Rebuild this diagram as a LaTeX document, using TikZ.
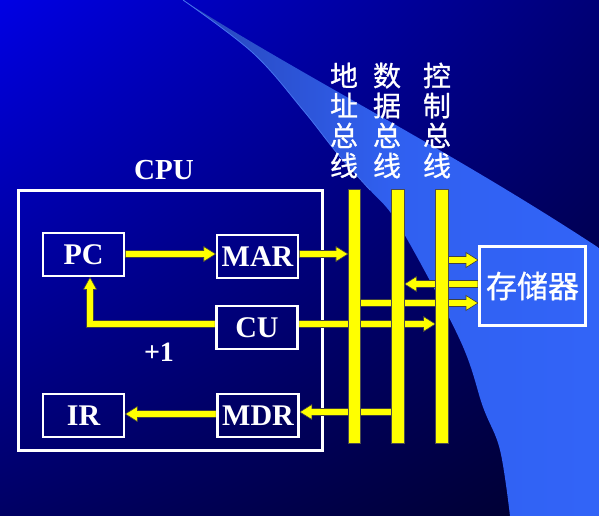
\documentclass[tikz,border=0pt]{standalone}
\usepackage{fontspec}
\setmainfont{Liberation Serif}
\newfontfamily\cjk[FakeBold=0.8]{Noto Sans CJK SC}
\usetikzlibrary{calc,shadings}
\pgfdeclarelayer{bglayer}
\pgfdeclarelayer{midlayer}
\pgfsetlayers{bglayer,midlayer,main}
\definecolor{bgA}{RGB}{0,0,228}
\definecolor{bgB}{RGB}{0,0,118}
\definecolor{bgC}{RGB}{0,0,100}
\definecolor{bgD}{RGB}{0,0,45}
\definecolor{bandA}{RGB}{32,48,130}
\definecolor{bandB}{RGB}{40,70,185}
\definecolor{bandC}{RGB}{48,96,240}
\definecolor{bandD}{RGB}{52,104,255}
\definecolor{hlcol}{RGB}{70,115,240}
\definecolor{yel}{RGB}{255,255,0}
\pgfdeclarehorizontalshading{bandshade}{100bp}{color(0bp)=(bandA); color(25bp)=(bandB); color(50bp)=(bandC); color(100bp)=(bandD)}
\tikzset{
  box/.style={draw=white, line width=2.6pt, minimum width=81pt, minimum height=43pt,
    inner sep=0pt, text=white, font=\fontsize{30pt}{36pt}\selectfont\bfseries},
  busbar/.style={fill=yel, draw=black!70, line width=0.6pt, minimum width=12.5pt,
    minimum height=254pt, inner sep=0pt},
  yarrow/.style={fill=yel, draw=black!75, line width=0.6pt},
  buslabel/.style={text=white, align=center, inner sep=0pt,
    font=\cjk\fontsize{28pt}{30pt}\selectfont},
}
\newcommand\blockarr[2]{%
  \coordinate (baq) at ($(#2)!12pt!(#1)$);
  \filldraw[yarrow] ($(#1)!3.5pt!90:(#2)$) -- ($(baq)!3.5pt!90:(#2)$)
    -- ($(baq)!7.5pt!90:(#2)$) -- (#2) -- ($(baq)!7.5pt!-90:(#2)$)
    -- ($(baq)!3.5pt!-90:(#2)$) -- ($(#1)!3.5pt!-90:(#2)$) -- cycle;
}
\begin{document}
\begin{tikzpicture}[x=1pt,y=-1pt]
\useasboundingbox (0,0) rectangle (599,516);
\begin{pgfonlayer}{bglayer}
  \shade[upper left=bgA, upper right=bgB, lower left=bgC, lower right=bgD]
    (0,0) rectangle (599,516);
  \shade[shading=bandshade] (183,0) .. controls (300,75) and (450,150) .. (599,248)
    -- (599,516) -- plot[smooth, tension=0.6] coordinates {(510,516) (500,450) (483,407)
    (460,340) (400,227) (370,190) (337,153) (303,110) (253,53) (183,0)} -- cycle;
  \draw[hlcol, line width=0.8pt] plot[smooth, tension=0.6] coordinates
    {(183,0) (253,53) (303,110) (337,153) (370,190)};
\end{pgfonlayer}

% boxes and bars
\node[box] (PC) at (83.5,254.5) {PC};
\node[box] (MAR) at (257.5,256.5) {MAR};
\node[box] (CU) at (257,327.5) {CU};
\node[box] (IR) at (83.5,415.5) {IR};
\node[box] (MDR) at (258,415.5) {MDR};
\node[draw=white, line width=3pt, minimum width=106pt, minimum height=79pt, inner sep=0pt,
  text=white, font=\cjk\fontsize{31pt}{34pt}\selectfont] (mem) at (532.5,286) {存储器};
\node[busbar] (b1) at (354.5,316) {};
\node[busbar] (b2) at (398,316) {};
\node[busbar] (b3) at (442,316) {};

% labels
\node[text=white, inner sep=0pt, font=\fontsize{29pt}{34pt}\selectfont\bfseries] (cpulabel) at (164,170) {CPU};
\node[text=white, inner sep=0pt, font=\fontsize{28pt}{34pt}\selectfont\bfseries] (plusone) at (159,352) {+1};
\node[buslabel] (addrlabel) at (344,120.5) {地\\址\\总\\线};
\node[buslabel] (datalabel) at (387,120.5) {数\\据\\总\\线};
\node[buslabel] (ctrllabel) at (437,120.5) {控\\制\\总\\线};

% row levels
\coordinate (r1) at (0,254);
\coordinate (r6) at (0,260);
\coordinate (r7) at (0,284);
\coordinate (r5) at (0,303);
\coordinate (r4) at (0,324);
\coordinate (r8) at (0,412);
\coordinate (r9) at (0,414);

\begin{pgfonlayer}{midlayer}
  \node[draw=white, line width=3pt, minimum width=304pt, minimum height=260pt, inner sep=0pt]
    (cpu) at (170.5,320) {};
  \coordinate (a1s) at (PC.east |- r1);  \coordinate (a1e) at (MAR.west |- r1);
  \coordinate (a2s) at (MAR.east |- r1); \coordinate (a2e) at (b1.west |- r1);
  \coordinate (a4s) at (CU.east |- r4);  \coordinate (a4e) at (b3.west |- r4);
  \coordinate (a5s) at (b1.center |- r5); \coordinate (a5e) at (mem.west |- r5);
  \coordinate (a6s) at (b3.center |- r6); \coordinate (a6e) at (mem.west |- r6);
  \coordinate (a7s) at (mem.west |- r7); \coordinate (a7e) at (b2.east |- r7);
  \coordinate (a8s) at (b2.center |- r8); \coordinate (a8e) at (MDR.east |- r8);
  \coordinate (a9s) at (MDR.west |- r9); \coordinate (a9e) at (IR.east |- r9);
  \blockarr{a1s}{a1e}
  \blockarr{a2s}{a2e}
  \blockarr{a4s}{a4e}
  \blockarr{a5s}{a5e}
  \blockarr{a6s}{a6e}
  \blockarr{a7s}{a7e}
  \blockarr{a8s}{a8e}
  \blockarr{a9s}{a9e}
  % elbow CU -> PC
  \coordinate (e0) at (CU.west |- r4);
  \coordinate (e2) at ([xshift=6.5pt]PC.south);
  \coordinate (e1) at (e2 |- r4);
  \filldraw[yarrow] ($(e0)+(0,-3.5)$) -- ($(e1)+(3.5,-3.5)$) -- ($(e2)+(3.5,12)$)
    -- ($(e2)+(6.5,12)$) -- (e2) -- ($(e2)+(-6.5,12)$) -- ($(e2)+(-3.5,12)$)
    -- ($(e1)+(-3.5,3.5)$) -- ($(e0)+(0,3.5)$) -- cycle;
\end{pgfonlayer}
\end{tikzpicture}
\end{document}
